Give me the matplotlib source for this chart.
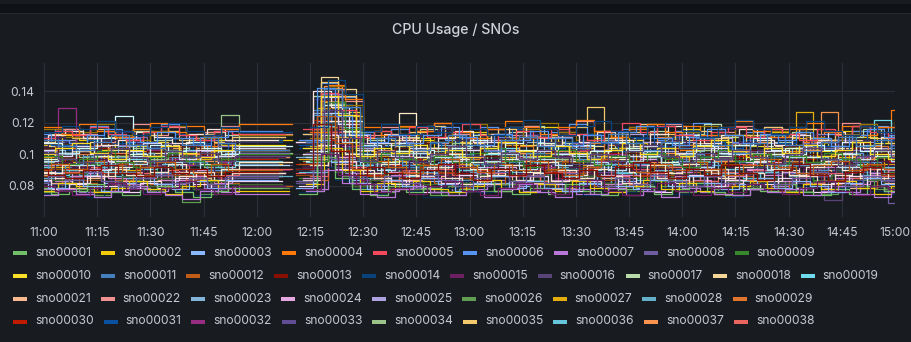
import datetime as dt
import numpy as np
import matplotlib
matplotlib.use('Agg')
import matplotlib.pyplot as plt
import matplotlib.dates as mdates
from matplotlib.patches import Rectangle

# CPU usage per SNO, one value every 5 minutes from 11:00 to 15:00 (x 0.001)
# None = no samples around 12:10
sno00001 = [92, 97, 95, 101, 99, 94, 96,  103, 98, 93, 97, 100, 100, 100,  None, 96, 138, 112, 99, 95, 102,  98, 104, 97, 93, 99, 101, 96,  94, 100, 105, 98, 95, 97, 102,  99, 94, 96, 101, 97, 103, 98,  95, 99, 104, 97, 93, 98, 100]
sno00002 = [106, 112, 109, 104, 110, 115, 108,  103, 107, 111, 106, 109, 109, 109,  None, 105, 131, 124, 110, 107, 113,  109, 104, 108, 114, 110, 106, 112,  117, 108, 104, 110, 113, 107, 105,  111, 116, 109, 106, 112, 108, 114,  110, 105, 109, 115, 111, 107, 113]
sno00003 = [83, 79, 86, 88, 82, 80, 85,  87, 83, 78, 84, 86, 86, 86,  None, 82, 121, 95, 84, 80, 86,  89, 83, 79, 85, 88, 82, 80,  86, 90, 84, 81, 87, 83, 79,  85, 88, 82, 86, 80, 84, 89,  83, 79, 86, 84, 81, 87, 85]
sno00004 = [98, 104, 101, 96, 99, 106, 102,  97, 100, 105, 99, 95, 95, 95,  None, 101, 142, 130, 104, 98, 102,  107, 100, 96, 103, 99, 105, 110,  101, 97, 104, 100, 96, 102, 108,  99, 103, 97, 101, 106, 100, 95,  102, 108, 99, 104, 97, 103, 128]
sno00005 = [88, 93, 91, 86, 89, 95, 92,  87, 90, 94, 89, 91, 91, 91,  None, 88, 126, 109, 92, 87, 93,  90, 85, 91, 96, 89, 87, 93,  98, 90, 86, 92, 95, 88, 91,  86, 93, 97, 90, 88, 94, 89,  92, 87, 95, 90, 86, 93, 91]
sno00006 = [110, 116, 113, 118, 111, 108, 114,  119, 112, 109, 115, 111, 111, 111,  None, 113, 145, 136, 114, 110, 116,  112, 118, 109, 113, 117, 111, 115,  108, 114, 119, 112, 110, 116, 113,  109, 115, 120, 112, 108, 114, 117,  111, 116, 113, 109, 115, 118, 112]
sno00007 = [78, 82, 76, 80, 84, 79, 77,  81, 85, 79, 76, 80, 80, 80,  None, 78, 112, 88, 81, 77, 83,  79, 76, 82, 78, 84, 80, 77,  81, 79, 75, 82, 86, 80, 77,  83, 79, 76, 81, 84, 78, 80,  77, 82, 79, 76, 83, 80, 78]
sno00008 = [95, 100, 103, 97, 93, 99, 104,  98, 95, 101, 96, 98, 98, 98,  None, 94, 139, 118, 97, 102, 96,  93, 99, 104, 98, 95, 100, 97,  103, 96, 92, 98, 101, 95, 99,  104, 97, 93, 100, 96, 102, 98,  94, 99, 103, 97, 95, 100, 69]
sno00009 = [91, 85, 88, 94, 89, 84, 87,  92, 86, 83, 89, 90, 90, 90,  None, 85, 104, 96, 91, 87, 84,  89, 94, 88, 83, 87, 92, 86,  84, 91, 87, 93, 96, 88, 85,  83, 89, 92, 86, 91, 85, 88,  94, 88, 84, 90, 86, 92, 89]
sno00010 = [101, 106, 110, 103, 99, 105, 108,  102, 97, 104, 109, 103, 103, 103,  None, 106, 133, 127, 102, 98, 105,  110, 104, 100, 107, 103, 98, 106,  111, 105, 101, 97, 104, 109, 102,  99, 106, 103, 108, 112, 105, 100,  104, 109, 102, 98, 105, 107, 101]
sno00011 = [95, 89, 92, 87, 94, 98, 91,  88, 93, 96, 90, 95, 95, 95,  None, 91, 128, 113, 89, 94, 97,  92, 87, 93, 98, 91, 86, 95,  89, 94, 90, 96, 92, 88, 93,  98, 91, 87, 93, 89, 95, 100,  93, 88, 94, 90, 97, 92, 87]
sno00012 = [80, 85, 82, 77, 84, 88, 81,  79, 83, 87, 82, 80, 80, 80,  None, 84, 117, 97, 81, 78, 85,  88, 82, 79, 85, 81, 86, 90,  83, 78, 84, 80, 87, 82, 79,  85, 89, 83, 80, 86, 82, 77,  83, 88, 81, 85, 79, 84, 87]
sno00013 = [101, 95, 98, 104, 97, 93, 99,  103, 96, 100, 94, 99, 99, 99,  None, 95, 135, 120, 100, 96, 102,  97, 103, 99, 94, 100, 105, 98,  93, 99, 102, 96, 101, 97, 92,  98, 104, 100, 95, 99, 103, 96,  101, 97, 93, 99, 104, 98, 95]
sno00014 = [109, 103, 106, 112, 107, 101, 104,  110, 105, 99, 103, 108, 108, 108,  None, 104, 140, 132, 101, 107, 111,  104, 100, 108, 113, 106, 102, 109,  112, 105, 99, 106, 110, 104, 108,  101, 107, 113, 105, 100, 106, 111,  107, 103, 110, 104, 99, 108, 105]
sno00015 = [84, 84, 91, 86, 81, 88, 93,  87, 83, 89, 85, 90, 90, 90,  None, 88, 115, 99, 84, 90, 86,  81, 87, 92, 88, 84, 80, 86,  91, 85, 89, 94, 87, 82, 88,  84, 90, 86, 81, 87, 93, 88,  85, 91, 83, 88, 92, 86, 84]
sno00016 = [96, 90, 93, 88, 95, 99, 92,  89, 94, 97, 91, 93, 93, 93,  None, 90, 129, 108, 96, 91, 94,  99, 93, 88, 95, 91, 97, 100,  94, 89, 92, 98, 95, 90, 87,  93, 99, 95, 90, 96, 92, 88,  94, 98, 71, 92, 97, 90, 95]
sno00017 = [107, 113, 116, 110, 106, 111, 115,  109, 104, 110, 114, 112, 112, 112,  None, 108, 137, 126, 113, 109, 106,  111, 116, 110, 105, 112, 108, 114,  118, 111, 107, 113, 109, 104, 110,  115, 109, 113, 119, 111, 106, 112,  108, 114, 110, 105, 111, 116, 109]
sno00018 = [105, 99, 102, 108, 103, 97, 101,  106, 100, 104, 98, 103, 103, 103,  None, 99, 149, 141, 104, 100, 107,  102, 97, 103, 109, 105, 99, 96,  103, 108, 100, 105, 110, 102, 98,  104, 100, 107, 111, 103, 98, 105,  101, 106, 99, 104, 109, 103, 100]
sno00019 = [93, 98, 101, 95, 91, 97, 94,  99, 103, 96, 92, 98, 98, 98,  None, 95, 131, 117, 93, 99, 102,  96, 91, 98, 94, 100, 104, 97,  92, 97, 101, 95, 90, 96, 100,  94, 99, 93, 97, 102, 95, 91,  98, 93, 96, 100, 94, 122, 97]
sno00021 = [87, 82, 79, 85, 88, 83, 80,  84, 89, 85, 81, 86, 86, 86,  None, 83, 110, 94, 80, 85, 89,  84, 79, 86, 90, 83, 81, 87,  82, 78, 84, 88, 85, 80, 83,  89, 84, 80, 86, 82, 78, 85,  81, 86, 90, 83, 79, 85, 82]
sno00022 = [111, 116, 113, 108, 115, 119, 112,  117, 110, 114, 118, 113, 113, 113,  None, 116, 141, 134, 112, 117, 110,  115, 120, 113, 109, 116, 112, 118,  110, 114, 121, 115, 111, 117, 113,  119, 112, 108, 114, 118, 111, 116,  113, 109, 115, 120, 112, 117, 111]
sno00023 = [97, 103, 100, 95, 98, 105, 101,  96, 102, 107, 99, 101, 101, 101,  None, 98, 126, 103, 97, 104, 100,  95, 101, 106, 99, 103, 97, 102,  108, 100, 96, 103, 99, 94, 101,  105, 98, 102, 107, 100, 96, 103,  99, 104, 98, 95, 102, 106, 100]
sno00024 = [93, 88, 86, 91, 95, 89, 92,  87, 84, 90, 94, 88, 88, 88,  None, 92, 124, 98, 87, 93, 89,  85, 91, 96, 90, 86, 92, 88,  94, 89, 85, 91, 87, 93, 97,  90, 86, 92, 88, 84, 90, 95,  89, 93, 87, 92, 96, 88, 91]
sno00025 = [103, 109, 112, 105, 101, 107, 104,  110, 106, 102, 108, 105, 105, 105,  None, 109, 138, 119, 104, 110, 106,  101, 107, 112, 104, 109, 103, 99,  106, 111, 105, 100, 107, 113, 108,  102, 108, 104, 110, 106, 101, 107,  113, 105, 109, 103, 108, 104, 110]
sno00026 = [76, 81, 78, 74, 80, 83, 77,  82, 70, 75, 80, 79, 79, 79,  None, 77, 96, 86, 80, 76, 82,  78, 74, 80, 84, 77, 81, 76,  79, 83, 78, 75, 81, 77, 84,  80, 76, 82, 78, 74, 79, 83,  77, 81, 75, 80, 84, 78, 76]
sno00027 = [98, 92, 95, 101, 96, 90, 94,  99, 93, 97, 102, 94, 94, 94,  None, 97, 129, 111, 93, 99, 96,  91, 97, 100, 94, 90, 96, 101,  95, 90, 97, 93, 99, 104, 96,  92, 98, 94, 89, 96, 100, 93,  97, 127, 95, 100, 93, 98, 94]
sno00028 = [85, 90, 87, 92, 86, 82, 89,  93, 87, 84, 90, 86, 86, 86,  None, 89, 120, 101, 85, 91, 87,  93, 88, 84, 89, 95, 87, 83,  88, 92, 86, 82, 89, 93, 87,  84, 90, 95, 88, 83, 89, 92,  86, 82, 88, 93, 87, 91, 85]
sno00029 = [100, 106, 103, 98, 104, 109, 102,  99, 105, 101, 107, 104, 104, 104,  None, 100, 134, 116, 106, 101, 97,  103, 108, 101, 97, 104, 110, 105,  100, 96, 102, 107, 103, 99, 106,  111, 104, 99, 105, 101, 107, 102,  98, 104, 109, 103, 99, 105, 101]
sno00030 = [90, 95, 98, 92, 88, 94, 91,  96, 90, 87, 93, 97, 97, 97,  None, 94, 122, 109, 91, 87, 93,  98, 92, 88, 95, 90, 96, 101,  93, 89, 95, 91, 97, 92, 87,  94, 98, 91, 86, 93, 99, 95,  90, 94, 88, 93, 97, 91, 96]
sno00031 = [111, 106, 103, 109, 114, 107, 104,  110, 113, 107, 103, 109, 109, 109,  None, 106, 136, 129, 111, 105, 109,  113, 107, 103, 110, 106, 112, 116,  109, 104, 108, 113, 107, 102, 110,  105, 111, 115, 108, 104, 109, 113,  107, 112, 105, 101, 108, 114, 109]
sno00032 = [95, 129, 101, 96, 92, 98, 103,  97, 93, 99, 95, 100, 100, 100,  None, 96, 127, 105, 99, 94, 100,  104, 97, 93, 99, 95, 101, 97,  92, 98, 103, 96, 100, 94, 99,  101, 95, 91, 97, 103, 98, 94,  99, 104, 96, 92, 98, 101, 95]
sno00033 = [86, 81, 84, 89, 83, 79, 85,  82, 87, 84, 80, 85, 85, 85,  None, 82, 108, 92, 86, 81, 84,  79, 85, 89, 83, 80, 86, 82,  87, 83, 78, 84, 89, 82, 80,  85, 80, 86, 90, 84, 79, 83,  88, 82, 86, 80, 84, 89, 83]
sno00034 = [95, 101, 98, 93, 99, 104, 97,  102, 96, 92, 125, 101, 101, 101,  None, 97, 132, 114, 99, 95, 101,  96, 102, 107, 99, 95, 101, 98,  103, 97, 100, 94, 99, 105, 98,  93, 99, 103, 97, 101, 96, 100,  104, 98, 94, 100, 97, 102, 99]
sno00035 = [108, 113, 110, 116, 111, 106, 112,  115, 109, 113, 108, 111, 111, 111,  None, 113, 146, 137, 110, 115, 109,  114, 118, 111, 107, 113, 116, 110,  106, 112, 117, 130, 108, 114, 119,  113, 109, 115, 110, 106, 112, 117,  111, 116, 109, 113, 118, 110, 107]
sno00036 = [92, 87, 90, 95, 89, 85, 91,  94, 88, 86, 92, 96, 96, 96,  None, 89, 118, 97, 93, 88, 91,  86, 92, 97, 90, 87, 93, 89,  95, 91, 86, 90, 94, 88, 84,  90, 96, 92, 87, 91, 85, 89,  93, 88, 92, 97, 90, 86, 92]
sno00037 = [103, 97, 100, 106, 101, 95, 99,  104, 100, 96, 102, 98, 98, 98,  None, 101, 143, 125, 97, 103, 99,  94, 100, 105, 98, 102, 107, 101,  97, 102, 96, 100, 106, 99, 95,  101, 106, 99, 96, 102, 108, 100,  96, 103, 127, 101, 97, 103, 99]
sno00038 = [84, 89, 92, 86, 82, 88, 85,  90, 84, 81, 87, 91, 91, 91,  None, 86, 114, 100, 88, 83, 89,  85, 91, 87, 82, 88, 93, 86,  83, 89, 85, 91, 86, 81, 88,  92, 86, 83, 89, 84, 90, 94,  87, 82, 88, 85, 91, 86, 83]
# series below are plotted but their legend rows are scrolled out of the panel
sno00039 = [97, 91, 94, 99, 93, 89, 96,  92, 98, 95, 90, 94, 94, 94,  None, 91, 125, 112, 96, 92, 98,  93, 89, 95, 100, 94, 90, 97,  101, 95, 91, 97, 93, 99, 94,  89, 95, 100, 93, 97, 92, 96,  99, 93, 90, 96, 101, 95, 91]
sno00040 = [88, 83, 86, 91, 85, 81, 87,  84, 90, 86, 82, 88, 88, 88,  None, 85, 113, 95, 89, 84, 87,  91, 85, 81, 87, 92, 86, 83,  88, 84, 90, 86, 81, 87, 93,  85, 89, 84, 80, 86, 91, 87,  83, 88, 92, 85, 81, 87, 90]
sno00041 = [102, 108, 105, 100, 106, 111, 104,  107, 102, 109, 105, 101, 101, 101,  None, 104, 138, 122, 107, 102, 108,  104, 99, 105, 110, 103, 108, 112,  106, 101, 107, 103, 109, 104, 100,  108, 113, 106, 102, 107, 111, 104,  101, 107, 104, 109, 103, 99, 106]
sno00042 = [79, 84, 81, 77, 83, 86, 80,  85, 80, 78, 83, 81, 81, 81,  None, 83, 101, 89, 80, 84, 79,  85, 81, 77, 82, 87, 80, 84,  78, 83, 80, 86, 82, 77, 81,  84, 88, 82, 79, 83, 80, 85,  81, 77, 83, 87, 80, 84, 79]
sno00043 = [116, 111, 114, 119, 112, 109, 115,  118, 113, 110, 116, 112, 112, 112,  None, 110, 143, 131, 115, 111, 117,  112, 108, 114, 119, 113, 110, 116,  120, 114, 109, 115, 111, 117, 113,  108, 114, 118, 112, 116, 110, 115,  117, 111, 107, 113, 119, 114, 110]
sno00044 = [94, 98, 101, 97, 92, 95, 99,  103, 96, 93, 98, 95, 95, 95,  None, 99, 120, 104, 97, 93, 100,  91, 97, 102, 96, 93, 99, 94,  100, 95, 91, 97, 103, 96, 92,  98, 94, 99, 104, 97, 92, 98,  95, 100, 94, 90, 96, 101, 97]
sno00045 = [86, 91, 88, 84, 90, 94, 87,  92, 87, 84, 89, 93, 93, 93,  None, 87, 116, 103, 90, 86, 92,  88, 94, 89, 85, 91, 87, 93,  86, 90, 95, 88, 84, 90, 86,  92, 87, 83, 89, 94, 88, 85,  90, 95, 88, 84, 89, 93, 87]
sno00046 = [104, 98, 101, 107, 100, 96, 102,  99, 105, 101, 97, 103, 103, 103,  None, 100, 130, 118, 103, 98, 104,  107, 101, 97, 103, 99, 105, 110,  102, 98, 104, 100, 95, 101, 106,  99, 104, 108, 101, 97, 103, 100,  105, 100, 96, 102, 107, 101, 98]
sno00047 = [75, 80, 77, 73, 79, 82, 76,  81, 77, 74, 78, 80, 80, 80,  None, 76, 92, 84, 79, 75, 81,  77, 73, 79, 83, 76, 80, 75,  78, 82, 77, 74, 80, 76, 83,  79, 75, 81, 77, 73, 78, 82,  76, 80, 74, 79, 83, 77, 75]
sno00048 = [90, 95, 92, 97, 91, 87, 94,  96, 90, 88, 93, 98, 98, 98,  None, 92, 127, 106, 89, 95, 91,  96, 90, 86, 92, 97, 91, 88,  94, 99, 92, 88, 95, 90, 96,  91, 87, 93, 98, 92, 88, 94,  97, 92, 89, 95, 90, 96, 93]
sno00049 = [105, 111, 108, 103, 109, 114, 107,  104, 110, 106, 112, 108, 108, 108,  None, 107, 135, 127, 110, 105, 111,  106, 112, 116, 109, 104, 110, 107,  113, 108, 103, 109, 114, 106, 111,  104, 109, 105, 111, 116, 108, 103,  110, 106, 112, 107, 102, 109, 113]
sno00050 = [97, 101, 104, 99, 95, 100, 96,  102, 98, 94, 99, 103, 103, 103,  None, 96, 131, 115, 100, 95, 102,  98, 104, 100, 95, 101, 97, 103,  107, 100, 96, 102, 98, 104, 99,  95, 101, 106, 99, 103, 97, 100,  104, 98, 94, 100, 105, 99, 102]
sno00051 = [88, 93, 90, 86, 92, 96, 89,  94, 89, 86, 91, 95, 95, 95,  None, 93, 121, 100, 88, 94, 126,  86, 92, 97, 91, 87, 93, 89,  95, 90, 85, 91, 97, 89, 93,  88, 94, 90, 85, 92, 96, 91,  87, 92, 96, 90, 85, 91, 94]
sno00052 = [107, 101, 104, 110, 124, 99, 106,  102, 108, 104, 100, 105, 105, 105,  None, 102, 133, 121, 106, 101, 107,  103, 98, 104, 109, 102, 107, 111,  105, 100, 106, 102, 108, 103, 99,  107, 112, 105, 101, 106, 110, 103,  100, 106, 103, 108, 102, 98, 105]
sno00053 = [89, 85, 82, 86, 91, 87, 83,  80, 86, 89, 84, 88, 88, 88,  None, 84, 112, 96, 90, 85, 81,  87, 92, 85, 81, 86, 90, 84,  88, 83, 87, 93, 86, 82, 89,  85, 80, 86, 91, 84, 88, 83,  90, 86, 81, 87, 92, 85, 88]
sno00054 = [108, 112, 115, 110, 106, 109, 114,  111, 107, 113, 116, 109, 109, 109,  None, 108, 140, 130, 112, 107, 113,  109, 104, 110, 115, 108, 113, 117,  111, 106, 112, 108, 114, 109, 105,  113, 118, 111, 107, 112, 116, 109,  106, 112, 109, 114, 108, 104, 111]
sno00055 = [96, 101, 93, 90, 97, 94, 99,  95, 91, 98, 102, 93, 93, 93,  None, 98, 126, 108, 95, 90, 97,  101, 94, 98, 92, 96, 100, 91,  97, 93, 99, 95, 90, 96, 102,  94, 99, 92, 97, 101, 95, 90,  98, 94, 97, 92, 99, 103, 96]
sno00056 = [84, 78, 81, 86, 80, 76, 82,  79, 85, 81, 77, 83, 83, 83,  None, 80, 106, 91, 82, 78, 84,  80, 76, 82, 87, 81, 77, 83,  86, 81, 77, 83, 79, 85, 80,  76, 82, 87, 80, 84, 78, 81,  85, 79, 76, 82, 86, 80, 77]
sno00057 = [103, 99, 105, 100, 96, 102, 107,  101, 97, 103, 99, 104, 104, 104,  None, 100, 136, 119, 103, 107, 99,  104, 100, 96, 103, 108, 101, 97,  102, 106, 100, 97, 103, 99, 105,  108, 101, 97, 104, 100, 95, 102,  99, 104, 108, 101, 97, 103, 100]
sno00058 = [79, 75, 77, 81, 76, 74, 78,  80, 76, 73, 77, 79, 79, 79,  None, 75, 98, 85, 78, 74, 80,  76, 79, 74, 78, 82, 77, 75,  79, 75, 81, 77, 74, 78, 80,  75, 78, 82, 76, 74, 79, 77,  81, 76, 74, 78, 75, 80, 77]
sno00059 = [77, 82, 80, 76, 79, 83, 78,  75, 80, 84, 79, 77, 77, 77,  None, 81, 104, 90, 77, 82, 78,  83, 78, 76, 80, 84, 79, 76,  81, 77, 83, 79, 76, 80, 84,  78, 82, 77, 75, 80, 83, 79,  76, 81, 78, 83, 79, 75, 80]
sno00060 = [83, 79, 85, 80, 77, 82, 86,  81, 78, 83, 79, 84, 84, 84,  None, 79, 109, 95, 82, 78, 84,  80, 85, 81, 77, 82, 86, 79,  83, 79, 77, 82, 86, 80, 78,  84, 80, 86, 82, 78, 81, 85,  79, 83, 80, 76, 82, 85, 81]
sno00061 = [117, 113, 119, 115, 111, 116, 120,  114, 118, 112, 116, 119, 119, 119,  None, 114, 144, 135, 117, 112, 118,  115, 120, 114, 110, 116, 121, 117,  113, 117, 122, 115, 111, 116, 119,  114, 118, 112, 117, 121, 115, 111,  116, 120, 114, 118, 112, 117, 122]
sno00062 = [110, 115, 112, 117, 113, 109, 114,  118, 112, 109, 115, 113, 113, 113,  None, 116, 139, 128, 111, 115, 112,  117, 111, 114, 119, 112, 108, 115,  111, 116, 113, 109, 115, 120, 114,  118, 112, 109, 114, 117, 111, 116,  113, 109, 116, 112, 118, 114, 110]
sno00063 = [113, 109, 107, 112, 116, 110, 108,  114, 110, 106, 111, 115, 115, 115,  None, 109, 142, 124, 113, 108, 112,  107, 112, 117, 111, 106, 113, 109,  115, 110, 106, 112, 108, 114, 118,  110, 106, 111, 116, 112, 107, 113,  109, 114, 110, 105, 112, 116, 111]
sno00064 = [74, 78, 75, 73, 77, 80, 76,  74, 72, 77, 79, 75, 75, 75,  None, 77, 90, 82, 75, 73, 78,  80, 76, 74, 77, 73, 78, 81,  76, 73, 78, 75, 79, 74, 77,  73, 77, 80, 75, 74, 78, 76,  78, 74, 77, 80, 75, 73, 76]
sno00065 = [82, 86, 84, 89, 83, 80, 85,  87, 82, 85, 81, 86, 86, 86,  None, 83, 113, 97, 85, 81, 86,  82, 87, 84, 80, 85, 89, 83,  86, 82, 88, 84, 80, 85, 81,  87, 83, 80, 86, 82, 88, 84,  81, 85, 89, 83, 80, 86, 84]
sno00066 = [99, 94, 97, 102, 95, 92, 98,  101, 96, 93, 97, 100, 100, 100,  None, 96, 133, 116, 95, 101, 97,  93, 99, 95, 101, 104, 96, 92,  98, 103, 96, 93, 99, 95, 101,  97, 92, 98, 103, 96, 100, 94,  99, 95, 101, 97, 92, 98, 102]
sno00067 = [100, 104, 107, 101, 97, 103, 99,  105, 101, 98, 103, 106, 106, 106,  None, 104, 137, 125, 99, 104, 101,  106, 100, 103, 98, 104, 108, 102,  99, 105, 101, 97, 103, 107, 100,  104, 99, 105, 109, 102, 98, 104,  101, 106, 99, 103, 108, 100, 97]
sno00068 = [109, 105, 103, 108, 112, 106, 104,  110, 106, 111, 107, 103, 103, 103,  None, 108, 141, 130, 105, 110, 106,  103, 108, 112, 106, 102, 109, 111,  105, 110, 104, 108, 113, 107, 103,  108, 104, 110, 106, 101, 107, 112,  106, 102, 108, 111, 105, 109, 104]
sno00069 = [90, 94, 91, 96, 93, 88, 92,  95, 91, 88, 94, 90, 90, 90,  None, 94, 124, 107, 91, 96, 92,  88, 93, 97, 92, 89, 94, 90,  96, 91, 87, 92, 97, 93, 89,  94, 90, 95, 91, 87, 93, 97,  92, 88, 93, 96, 90, 94, 91]
sno00070 = [91, 87, 85, 90, 93, 88, 86,  92, 88, 91, 86, 89, 89, 89,  None, 91, 119, 102, 87, 92, 88,  85, 90, 94, 88, 84, 91, 87,  93, 88, 85, 90, 86, 92, 95,  89, 85, 91, 87, 93, 88, 84,  90, 94, 87, 83, 89, 92, 88]
sno00071 = [114, 118, 116, 121, 115, 112, 117,  120, 115, 112, 117, 114, 114, 114,  None, 117, 147, 138, 115, 119, 113,  118, 114, 120, 116, 112, 117, 122,  116, 112, 118, 121, 115, 111, 117,  120, 115, 111, 117, 122, 116, 113,  117, 121, 115, 112, 118, 114, 119]
sno00072 = [80, 77, 74, 79, 82, 78, 75,  79, 83, 78, 75, 80, 80, 80,  None, 78, 100, 87, 81, 76, 79,  75, 80, 83, 77, 74, 79, 82,  78, 75, 80, 84, 77, 74, 79,  82, 77, 74, 79, 76, 81, 78,  75, 79, 83, 77, 74, 80, 78]
sno00073 = [101, 97, 95, 100, 104, 98, 96,  102, 98, 101, 96, 99, 99, 99,  None, 101, 128, 110, 96, 102, 98,  95, 100, 105, 99, 94, 101, 97,  103, 98, 94, 100, 96, 102, 106,  99, 95, 101, 97, 103, 98, 94,  100, 104, 97, 93, 99, 103, 98]

# minutes each host's samples land before the 5-minute mark
step_shift = [2, 0, 3, 1, 4, 2, 0, 2, 3, 1,
              4, 0, 2, 3, 1, 0, 4, 2, 1, 3,
              0, 4, 2, 1, 1, 3, 0, 2, 4, 3,
              1, 4, 0, 2, 3, 1, 0, 4, 2, 1,
              3, 0, 2, 4, 1, 3, 2, 4, 1, 0,
              0, 2, 4, 1, 3, 2, 3, 1, 4, 0,
              2, 3, 1, 4, 0, 2, 1, 3, 4, 0,
              2, 1]

series = [sno00001, sno00002, sno00003, sno00004, sno00005, sno00006, sno00007, sno00008, sno00009,
          sno00010, sno00011, sno00012, sno00013, sno00014, sno00015, sno00016, sno00017, sno00018, sno00019,
          sno00021, sno00022, sno00023, sno00024, sno00025, sno00026, sno00027, sno00028, sno00029,
          sno00030, sno00031, sno00032, sno00033, sno00034, sno00035, sno00036, sno00037, sno00038,
          sno00039, sno00040, sno00041, sno00042, sno00043, sno00044, sno00045, sno00046, sno00047,
          sno00048, sno00049, sno00050, sno00051, sno00052, sno00053, sno00054, sno00055, sno00056, sno00057,
          sno00058, sno00059, sno00060, sno00061, sno00062, sno00063, sno00064, sno00065, sno00066,
          sno00067, sno00068, sno00069, sno00070, sno00071, sno00072, sno00073]
names = ['sno%05d' % n for n in list(range(1, 20)) + list(range(21, 74))]
legend_row_sizes = [9, 10, 9, 9]

y_ticks = [0.08, 0.1, 0.12, 0.14]
y_labels = ['0.08', '0.1', '0.12', '0.14']

# grafana classic palette
palette = ['#73BF69', '#F2CC0C', '#8AB8FF', '#FF780A', '#F2495C', '#5794F2', '#B877D9', '#705DA0', '#37872D', '#FADE2A',
           '#447EBC', '#C15C17', '#890F02', '#0A437C', '#6D1F62', '#584477', '#B7DBAB', '#F4D598', '#70DBED', '#F9BA8F',
           '#F29191', '#82B5D8', '#E5A8E2', '#AEA2E0', '#629E51', '#E5AC0E', '#64B0C8', '#E0752D', '#BF1B00', '#0A50A1',
           '#962D82', '#614D93', '#9AC48A', '#F2C96D', '#65C5DB', '#F9934E', '#EA6460', '#5195CE', '#D683CE', '#806EB7',
           '#3F6833', '#967302', '#2F575E', '#99440A', '#58140C', '#052B51', '#511749', '#3F2B5B', '#E0F9D7', '#FCEACA',
           '#CFFAFF', '#F9E2D2', '#FCE2DE', '#BADFF4', '#F9D9F9', '#DEDAF7']

plt.rcParams['font.family'] = ['Inter', 'DejaVu Sans']

W, H = 912, 342
bg = '#181b1f'
txt = '#c7c8d1'

fig = plt.figure(figsize=(W / 100, H / 100), dpi=100, facecolor=bg)
# strip between this panel and the one above
fig.add_artist(Rectangle((0, 1 - 13 / H), 1, 9 / H, transform=fig.transFigure, color='#111217', lw=0))
fig.add_artist(Rectangle((0, 1 - 14 / H), 1, 1 / H, transform=fig.transFigure, color='#25282d', lw=0))

fig.text(0.5, 1 - 30 / H, 'CPU Usage / SNOs', ha='center', va='center', fontsize=10.2,
         color='#d0d1da', fontweight='medium')

ax = fig.add_axes([44 / W, 1 - 217 / H, 851 / W, 154 / H])
ax.set_facecolor(bg)

start = dt.datetime(2023, 1, 1, 11, 0)
end = dt.datetime(2023, 1, 1, 15, 0)

for i, vals in enumerate(series):
    sh = step_shift[i % len(step_shift)]
    t = [start + dt.timedelta(minutes=5 * k - sh) for k in range(len(vals))]
    t.append(end + dt.timedelta(minutes=5))
    v = np.array(list(vals) + [vals[-1]], dtype=float) / 1000
    ax.plot(mdates.date2num(t), v, drawstyle='steps-post', color=palette[i % len(palette)], lw=0.9)

ax.set_xlim(mdates.date2num(start), mdates.date2num(end))
ax.set_ylim(0.0604, 0.1577)
ax.xaxis.set_major_locator(mdates.MinuteLocator(byminute=[0, 15, 30, 45]))
ax.xaxis.set_major_formatter(mdates.DateFormatter('%H:%M'))
ax.set_yticks(y_ticks)
ax.set_yticklabels(y_labels)
ax.tick_params(axis='both', length=0, colors=txt, labelsize=8.7)
ax.tick_params(axis='x', pad=7)
ax.tick_params(axis='y', pad=7)
ax.grid(True, color='#2c2f35', lw=0.8)
ax.set_axisbelow(True)
for s in ax.spines.values():
    s.set_visible(False)

# legend, drawn like grafana's list legend
fig.canvas.draw()
renderer = fig.canvas.get_renderer()
row_y = [253, 276, 298.5, 321.5]
idx = 0
for r, n in enumerate(legend_row_sizes):
    x = 13
    for j in range(n):
        fig.add_artist(Rectangle((x / W, 1 - (row_y[r] + 2) / H), 14 / W, 4 / H,
                                 transform=fig.transFigure, color=palette[idx], lw=0))
        tx = fig.text((x + 22) / W, 1 - row_y[r] / H, names[idx], color=txt, fontsize=8.7,
                      ha='left', va='center')
        bb = tx.get_window_extent(renderer)
        x = bb.x1 + 10
        idx += 1

fig.savefig('out.png', dpi=100, facecolor=bg)
